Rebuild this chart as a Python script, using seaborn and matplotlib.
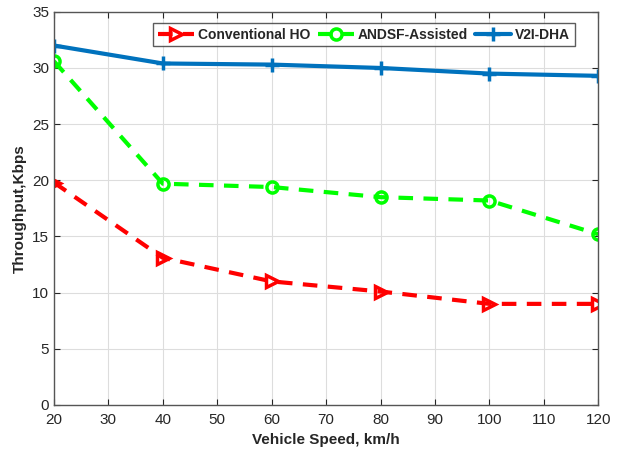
import matplotlib
matplotlib.use('Agg')
import matplotlib.pyplot as plt
import seaborn as sns

# 数据
speed = [20, 40, 60, 80, 100, 120]
conventional_ho = [19.8, 13.1, 11.0, 10.1, 9.0, 9.0]
andsf_assisted = [30.6, 19.7, 19.4, 18.5, 18.2, 15.2]
v2i_dha = [32.0, 30.4, 30.3, 30.0, 29.5, 29.3]

sns.set_style('whitegrid')
plt.rcParams['font.family'] = ['Liberation Sans', 'DejaVu Sans']

fig = plt.figure(figsize=(6.17, 4.54), dpi=100)
ax = fig.add_axes([0.0875, 0.108, 0.882, 0.866])

dash = (0, (3.5, 2.5))
sns.lineplot(x=speed, y=conventional_ho, ax=ax, color='#FF0000', linewidth=3,
             linestyle=dash, marker='>', markersize=8, markerfacecolor='none',
             markeredgecolor='#FF0000', markeredgewidth=2.5, label='Conventional HO')
sns.lineplot(x=speed, y=andsf_assisted, ax=ax, color='#00FF00', linewidth=3,
             linestyle=dash, marker='o', markersize=8, markerfacecolor='none',
             markeredgecolor='#00FF00', markeredgewidth=2.5, label='ANDSF-Assisted')
sns.lineplot(x=speed, y=v2i_dha, ax=ax, color='#0072BD', linewidth=3,
             marker='+', markersize=10, markeredgewidth=2.5,
             markeredgecolor='#0072BD', label='V2I-DHA')

ax.set_xlim(20, 120)
ax.set_ylim(0, 35)
ax.set_xticks(range(20, 121, 10))
ax.set_yticks(range(0, 36, 5))
ax.grid(True, color='#DDDDDD', linewidth=0.8)
for s in ax.spines.values():
    s.set_color('#555555')
    s.set_linewidth(1)
ax.tick_params(direction='in', length=4, top=True, right=True, labelsize=11,
               colors='#262626', bottom=True, left=True)
ax.tick_params(axis='x', pad=6)

ax.set_xlabel('Vehicle Speed, km/h', fontsize=11, fontweight='bold')
ax.set_ylabel('Throughput,Kbps', fontsize=11, fontweight='bold')

leg = ax.legend(loc='upper center', ncol=3, bbox_to_anchor=(0.57, 0.99),
                frameon=True, fancybox=False, edgecolor='#333333',
                prop={'weight': 'bold', 'size': 10}, handlelength=2.6,
                columnspacing=0.5, handletextpad=0.3, borderpad=0.35)
leg.get_frame().set_linewidth(1)

fig.savefig('out.png', dpi=100)
